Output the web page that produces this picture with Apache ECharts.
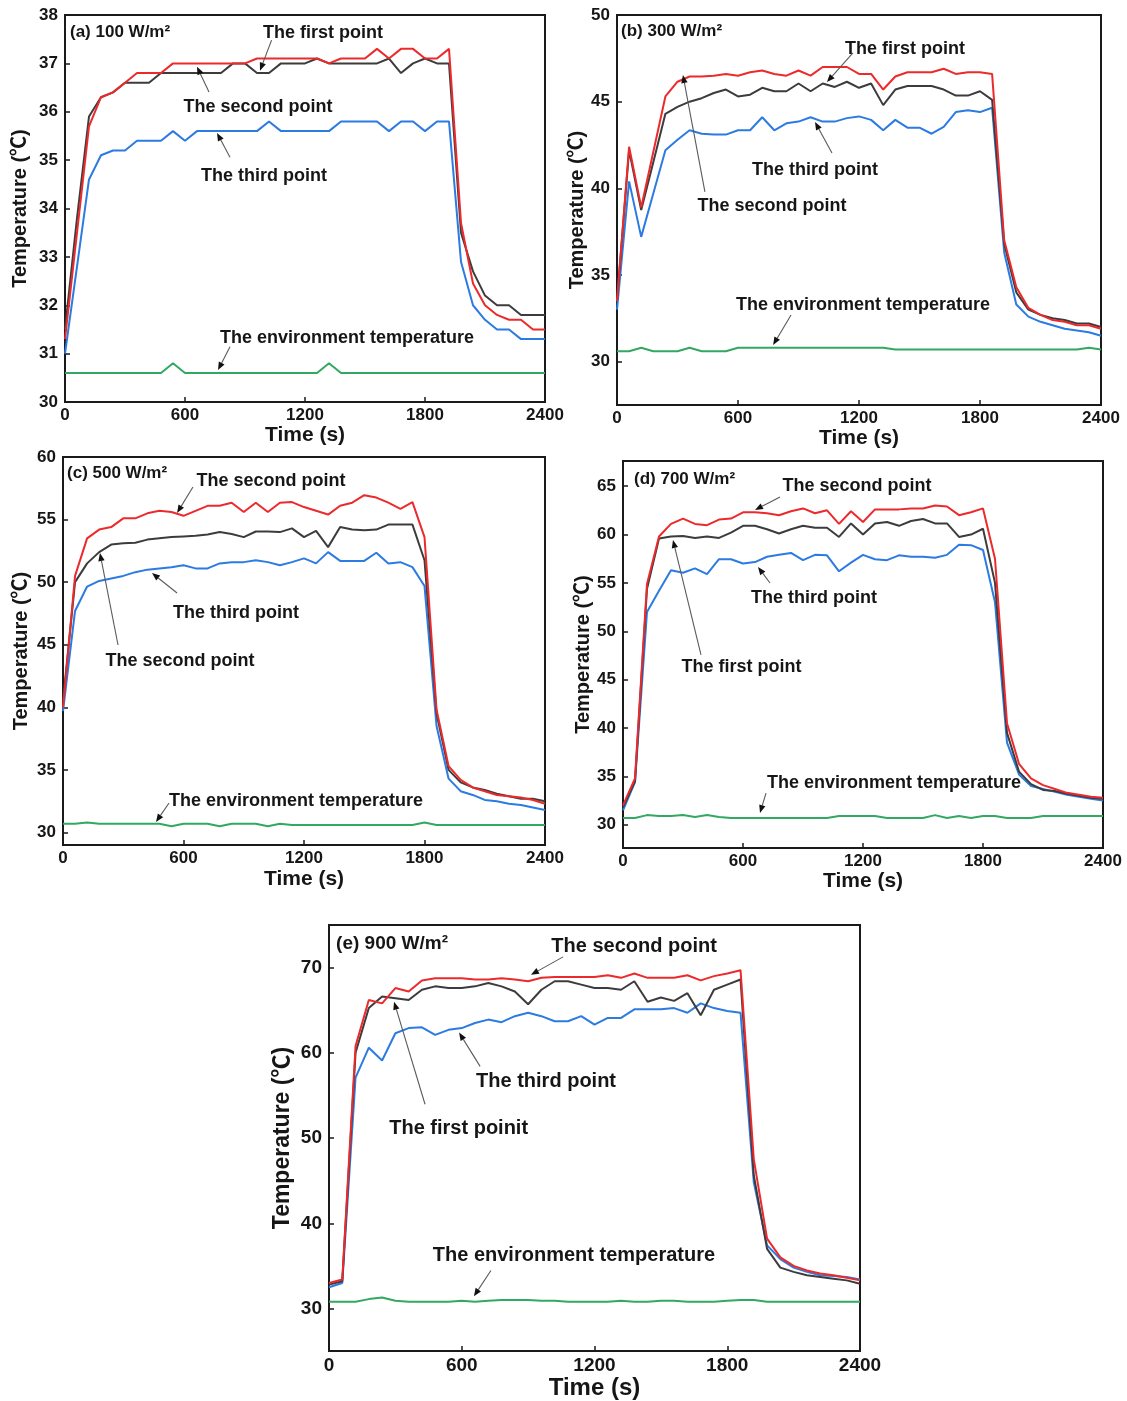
<!DOCTYPE html>
<html><head><meta charset="utf-8">
<script src="https://cdn.jsdelivr.net/npm/echarts@6/dist/echarts.min.js"></script>
<style>html,body{margin:0;padding:0;background:#fff}#c{width:1127px;height:1401px}</style>
</head><body><div id="c"></div>
<script>
// ---------- shared time axis (s) ----------
const time = [0,60,120,180,240,300,360,420,480,540,600,660,720,780,840,900,960,1020,1080,1140,1200,1260,1320,1380,1440,1500,1560,1620,1680,1740,1800,1860,1920,1980,2040,2100,2160,2220,2280,2340,2400];
const xTicks = [0,600,1200,1800,2400];

// ---------- (a) 100 W/m2 ----------
const a_first  = [31.5,33.8,35.9,36.3,36.4,36.6,36.6,36.6,36.8,36.8, 36.8,36.8,36.8,36.8,37.0,37.0,36.8,36.8,37.0,37.0, 37.0,37.1,37.0,37.0,37.0,37.0,37.0,37.1,36.8,37.0, 37.1,37.0,37.0,33.5,32.7,32.2,32.0,32.0,31.8,31.8, 31.8];
const a_second = [31.3,33.5,35.7,36.3,36.4,36.6,36.8,36.8,36.8,37.0, 37.0,37.0,37.0,37.0,37.0,37.0,37.1,37.1,37.1,37.1, 37.1,37.1,37.0,37.1,37.1,37.1,37.3,37.1,37.3,37.3, 37.1,37.1,37.3,33.7,32.45,32.0,31.8,31.7,31.7,31.5, 31.5];
const a_third  = [31.0,32.8,34.6,35.1,35.2,35.2,35.4,35.4,35.4,35.6, 35.4,35.6,35.6,35.6,35.6,35.6,35.6,35.8,35.6,35.6, 35.6,35.6,35.6,35.8,35.8,35.8,35.8,35.6,35.8,35.8, 35.6,35.8,35.8,32.9,32.0,31.7,31.5,31.5,31.3,31.3, 31.3];
const a_env    = [30.6,30.6,30.6,30.6,30.6,30.6,30.6,30.6,30.6,30.8, 30.6,30.6,30.6,30.6,30.6,30.6,30.6,30.6,30.6,30.6, 30.6,30.6,30.8,30.6,30.6,30.6,30.6,30.6,30.6,30.6, 30.6,30.6,30.6,30.6,30.6,30.6,30.6,30.6,30.6,30.6, 30.6];
const a_yTicks = [30,31,32,33,34,35,36,37,38];

// ---------- (b) 300 W/m2 ----------
const b_first  = [33.5,42.2,38.75,41.5,44.3,44.7,45.0,45.2,45.5,45.7, 45.3,45.4,45.8,45.6,45.6,46.05,45.6,46.05,45.85,46.15, 45.8,46.05,44.8,45.7,45.9,45.9,45.9,45.7,45.35,45.35, 45.6,45.1,36.8,34.0,33.0,32.7,32.5,32.4,32.2,32.2, 32.0];
const b_second = [33.5,42.4,38.9,42.1,45.3,46.15,46.45,46.45,46.5,46.6, 46.5,46.7,46.8,46.6,46.5,46.8,46.5,47.0,47.0,47.0, 46.6,46.6,45.7,46.45,46.7,46.7,46.7,46.9,46.6,46.7, 46.7,46.6,37.0,34.3,33.1,32.7,32.4,32.3,32.1,32.1, 31.9];
const b_third  = [33.0,40.4,37.2,39.7,42.2,42.8,43.35,43.15,43.1,43.1, 43.35,43.35,44.1,43.35,43.75,43.85,44.1,43.85,43.85,44.05, 44.15,43.95,43.35,43.95,43.5,43.5,43.15,43.55,44.4,44.5, 44.4,44.65,36.3,33.3,32.6,32.3,32.1,31.9,31.8,31.7, 31.5];
const b_env    = [30.6,30.6,30.8,30.6,30.6,30.6,30.8,30.6,30.6,30.6, 30.8,30.8,30.8,30.8,30.8,30.8,30.8,30.8,30.8,30.8, 30.8,30.8,30.8,30.7,30.7,30.7,30.7,30.7,30.7,30.7, 30.7,30.7,30.7,30.7,30.7,30.7,30.7,30.7,30.7,30.8, 30.7];
const b_yTicks = [30,35,40,45,50];

// ---------- (c) 500 W/m2 ----------
const c_first  = [40.5,50.0,51.5,52.4,53.0,53.1,53.15,53.4,53.5,53.6, 53.65,53.7,53.8,54.0,53.85,53.6,54.05,54.05,54.0,54.3, 53.6,54.1,52.8,54.4,54.2,54.15,54.2,54.6,54.6,54.6, 51.75,39.5,35.0,34.0,33.6,33.4,33.1,32.9,32.7,32.7, 32.5];
const c_second = [40.0,50.5,53.5,54.2,54.4,55.1,55.1,55.5,55.7,55.6, 55.3,55.7,56.1,56.1,56.35,55.6,56.35,55.6,56.35,56.4, 56.0,55.7,55.4,56.1,56.35,56.95,56.76,56.35,55.86,56.4, 53.6,39.8,35.3,34.2,33.6,33.3,33.0,32.9,32.8,32.6, 32.3];
const c_third  = [39.7,47.7,49.65,50.1,50.3,50.5,50.8,51.0,51.1,51.2, 51.35,51.1,51.1,51.5,51.6,51.6,51.75,51.6,51.35,51.6, 51.9,51.5,52.4,51.7,51.7,51.7,52.35,51.5,51.6,51.2, 49.7,38.5,34.3,33.3,33.0,32.6,32.5,32.3,32.2,32.0, 31.8];
const c_env    = [30.7,30.7,30.8,30.7,30.7,30.7,30.7,30.7,30.7,30.5, 30.7,30.7,30.7,30.5,30.7,30.7,30.7,30.5,30.7,30.6, 30.6,30.6,30.6,30.6,30.6,30.6,30.6,30.6,30.6,30.6, 30.8,30.6,30.6,30.6,30.6,30.6,30.6,30.6,30.6,30.6, 30.6];
const c_yTicks = [30,35,40,45,50,55,60];

// ---------- (d) 700 W/m2 ----------
const d_first  = [31.8,34.5,54.4,59.6,59.8,59.85,59.65,59.8,59.65,60.2, 60.9,60.9,60.55,60.1,60.55,60.9,60.7,60.7,59.75,61.15, 60.0,61.15,61.3,60.9,61.4,61.6,61.15,61.15,59.75,60.0, 60.6,55.0,39.5,35.5,34.2,33.6,33.5,33.2,33.0,32.8, 32.7];
const d_second = [32.0,34.8,54.9,59.8,61.1,61.65,61.1,60.97,61.55,61.65, 62.3,62.3,62.2,62.0,62.4,62.7,62.2,62.5,61.1,62.4, 61.3,62.6,62.6,62.6,62.7,62.7,63.0,62.9,62.0,62.3, 62.7,57.5,40.5,36.3,34.8,34.1,33.7,33.3,33.1,32.9, 32.8];
const d_third  = [31.5,34.4,52.0,54.2,56.3,56.05,56.5,55.9,57.45,57.45, 57.0,57.15,57.7,57.9,58.1,57.35,57.9,57.85,56.2,57.1, 57.9,57.45,57.35,57.85,57.7,57.7,57.6,57.9,58.95,58.9, 58.4,53.0,38.5,35.2,34.0,33.7,33.4,33.1,32.9,32.7, 32.5];
const d_env    = [30.7,30.7,31.0,30.9,30.9,31.0,30.8,31.0,30.8,30.7, 30.7,30.7,30.7,30.7,30.7,30.7,30.7,30.7,30.9,30.9, 30.9,30.9,30.7,30.7,30.7,30.7,31.0,30.7,30.9,30.7, 30.9,30.9,30.7,30.7,30.7,30.9,30.9,30.9,30.9,30.9, 30.9];
const d_yTicks = [30,35,40,45,50,55,60,65];

// ---------- (e) 900 W/m2 ----------
const e_first  = [32.8,33.2,60.0,65.25,66.6,66.4,66.2,67.4,67.8,67.6, 67.6,67.8,68.2,67.8,67.2,65.7,67.4,68.4,68.4,68.0, 67.6,67.6,67.4,68.4,66.0,66.5,66.1,67.0,64.4,67.4, 68.0,68.6,45.6,37.0,34.8,34.3,33.9,33.7,33.5,33.3, 32.9];
const e_second = [33.0,33.4,60.8,66.2,65.8,67.6,67.2,68.5,68.75,68.75, 68.75,68.6,68.6,68.75,68.6,68.4,68.8,68.9,68.9,68.9, 68.9,69.1,68.8,69.3,68.8,68.8,68.8,69.1,68.5,69.0, 69.3,69.7,47.5,38.2,36.0,35.0,34.45,34.1,33.9,33.6, 33.3];
const e_third  = [32.5,33.0,57.1,60.6,59.1,62.3,62.9,63.0,62.1,62.7, 62.9,63.5,63.9,63.6,64.3,64.7,64.3,63.7,63.7,64.3, 63.3,64.1,64.1,65.1,65.1,65.1,65.25,64.7,65.8,65.25, 64.9,64.7,44.8,37.4,35.8,34.8,34.3,33.9,33.8,33.7, 33.4];
const e_env    = [30.8,30.8,30.8,31.1,31.3,30.9,30.8,30.8,30.8,30.8, 30.9,30.8,30.9,31.0,31.0,31.0,30.9,30.9,30.8,30.8, 30.8,30.8,30.9,30.8,30.8,30.9,30.9,30.8,30.8,30.8, 30.9,31.0,31.0,30.8,30.8,30.8,30.8,30.8,30.8,30.8, 30.8];
const e_yTicks = [30,40,50,60,70];

// ---------- annotations (data coordinates) ----------
const a_notes = [['The first point',1290,37.62],['The second point',965,36.10],['The third point',995,34.68],['The environment temperature',1410,31.32]];
const a_arrows = [[1033,37.48,975,36.85],[720,36.41,660,36.93],[825,35.06,760,35.56],[825,31.14,765,30.66]];
const b_notes = [['The first point',1428,48.02],['The third point',982,41.06],['The second point',769,38.98],['The environment temperature',1220,33.27]];
const b_arrows = [[1170,47.81,1041,46.13],[1066,42.04,982,43.83],[436,39.79,327,46.54],[863,32.69,774,30.96]];
const c_notes = [['The second point',1036,58.11],['The third point',861,47.56],['The second point',583,43.70],['The environment temperature',1160,32.52]];
const c_arrows = [[647,57.60,568,55.53],[568,49.13,443,50.73],[274,44.98,184,52.33],[528,32.36,463,30.84]];
const d_notes = [['The second point',1170,65.05],['The third point',955,53.47],['The first point',592,46.34],['The environment temperature',1355,34.29]];
const d_arrows = [[785,63.88,660,62.54],[735,54.99,675,56.64],[390,47.55,250,59.43],[715,33.28,685,31.22]];
const e_notes = [['The second point',1379,72.45],['The third point',981,56.66],['The first poinit',586,51.07],['The environment temperature',1107,36.25]];
const e_arrows = [[1058,71.26,913,69.16],[683,58.41,588,62.38],[434,53.97,294,66.0],[732,34.46,655,31.43]];

const titles = ['(a) 100 W/m²','(b) 300 W/m²','(c) 500 W/m²','(d) 700 W/m²','(e) 900 W/m²'];

// ---------- layout / style ----------
const FONT = '"Liberation Sans", Arial, "Noto Sans CJK SC", sans-serif';
const COL = {first:'#3c3c3c', second:'#ec2a2c', third:'#2b7be2', env:'#33a862'};
const TXT = '#161616';

const panels = [
 {grid:{left:65,top:15,width:480,height:387}, yMin:30, yMax:38, yTicks:a_yTicks, s:[a_first,a_second,a_third,a_env], notes:a_notes, arrows:a_arrows, titleAt:[25,37.65], yGap:35, xGap:20, tick:17, note:18, yName:20, xName:21, tFont:17},
 {grid:{left:617,top:15,width:484,height:390}, yMin:27.5, yMax:50, yTicks:b_yTicks, s:[b_first,b_second,b_third,b_env], notes:b_notes, arrows:b_arrows, titleAt:[20,49.04], yGap:30, xGap:21, tick:17, note:18, yName:20, xName:21, tFont:17},
 {grid:{left:63,top:457,width:482,height:388}, yMin:29, yMax:60, yTicks:c_yTicks, s:[c_first,c_second,c_third,c_env], notes:c_notes, arrows:c_arrows, titleAt:[20,58.72], yGap:32, xGap:24, tick:17, note:18, yName:20, xName:21, tFont:17},
 {grid:{left:623,top:461,width:480,height:387}, yMin:27.6, yMax:67.6, yTicks:d_yTicks, s:[d_first,d_second,d_third,d_env], notes:d_notes, arrows:d_arrows, titleAt:[55,65.74], yGap:30, xGap:22, tick:17, note:18, yName:20, xName:21, tFont:17},
 {grid:{left:329,top:925,width:531,height:428}, yMin:25, yMax:75, yTicks:e_yTicks, s:[e_first,e_second,e_third,e_env], notes:e_notes, arrows:e_arrows, titleAt:[32,72.84], yGap:35, xGap:23, tick:19, note:20, yName:23, xName:24, tFont:19}
];

const chart = echarts.init(document.getElementById('c'), null, {renderer:'canvas'});
const grid=[], xAxis=[], yAxis=[], series=[];
const plain = v => String(v);
panels.forEach((p,i)=>{
  grid.push(Object.assign({show:true, borderColor:'#1a1a1a', borderWidth:2, backgroundColor:'#fff', containLabel:false}, p.grid));
  const lab = {color:TXT, fontWeight:'bold', fontFamily:FONT, fontSize:p.tick, formatter:plain};
  xAxis.push({type:'value', gridIndex:i, min:0, max:2400, interval:600,
    name:'Time (s)', nameLocation:'middle', nameGap:p.xGap,
    nameTextStyle:{color:TXT, fontWeight:'bold', fontFamily:FONT, fontSize:p.xName},
    axisLine:{show:true, onZero:false, lineStyle:{color:'#1a1a1a', width:2}},
    axisTick:{show:true, inside:true, length:5, lineStyle:{color:'#1a1a1a', width:1.5}},
    axisLabel:Object.assign({margin:5, customValues:xTicks}, lab), splitLine:{show:false}});
  yAxis.push({type:'value', gridIndex:i, min:p.yMin, max:p.yMax,
    name:'Temperature (℃)', nameLocation:'middle', nameGap:p.yGap, nameRotate:90,
    nameTextStyle:{color:TXT, fontWeight:'bold', fontFamily:FONT, fontSize:p.yName},
    axisLine:{show:true, onZero:false, lineStyle:{color:'#1a1a1a', width:2}},
    axisTick:{show:true, inside:true, length:5, customValues:p.yTicks, lineStyle:{color:'#1a1a1a', width:1.5}},
    axisLabel:Object.assign({margin:7, customValues:p.yTicks}, lab), splitLine:{show:false}});
  const order = [[3,'env'],[2,'third'],[0,'first'],[1,'second']];
  order.forEach(([idx,key],z)=>{
    const arr = p.s[idx];
    series.push({type:'line', xAxisIndex:i, yAxisIndex:i, data:time.map((t,k)=>[t,arr[k]]),
      showSymbol:false, symbol:'none', animation:false, z:2+z,
      lineStyle:{width:2, color:COL[key]}, itemStyle:{color:COL[key]}});
  });
});
chart.setOption({animation:false, grid, xAxis, yAxis, series});

// annotations
const g = [];
panels.forEach((p,i)=>{
  const px = v=>chart.convertToPixel({gridIndex:i}, v);
  p.arrows.forEach(a=>{
    const s = px([a[0],a[1]]), e = px([a[2],a[3]]);
    const ang = Math.atan2(e[1]-s[1], e[0]-s[0]);
    const L=8, W=3.2;
    const bx = e[0]-L*Math.cos(ang), by = e[1]-L*Math.sin(ang);
    g.push({type:'line', shape:{x1:s[0],y1:s[1],x2:bx,y2:by}, style:{stroke:'#5a5a5a', lineWidth:1.1}, z:50});
    g.push({type:'polygon', shape:{points:[[e[0],e[1]],[bx+W*Math.sin(ang), by-W*Math.cos(ang)],[bx-W*Math.sin(ang), by+W*Math.cos(ang)]]}, style:{fill:'#111'}, z:51});
  });
  p.notes.forEach(n=>{
    const c = px([n[1],n[2]]);
    g.push({type:'text', x:c[0], y:c[1], z:52, style:{text:n[0], fill:TXT, fontSize:p.note, fontWeight:'bold', fontFamily:FONT, align:'center', verticalAlign:'middle'}});
  });
  const tp = px(p.titleAt);
  g.push({type:'text', x:tp[0], y:tp[1], z:52, style:{text:titles[i], fill:TXT, fontSize:p.tFont, fontWeight:'bold', fontFamily:FONT, align:'left', verticalAlign:'middle'}});
});
chart.setOption({graphic:{elements:g}});
</script>
</body></html>
